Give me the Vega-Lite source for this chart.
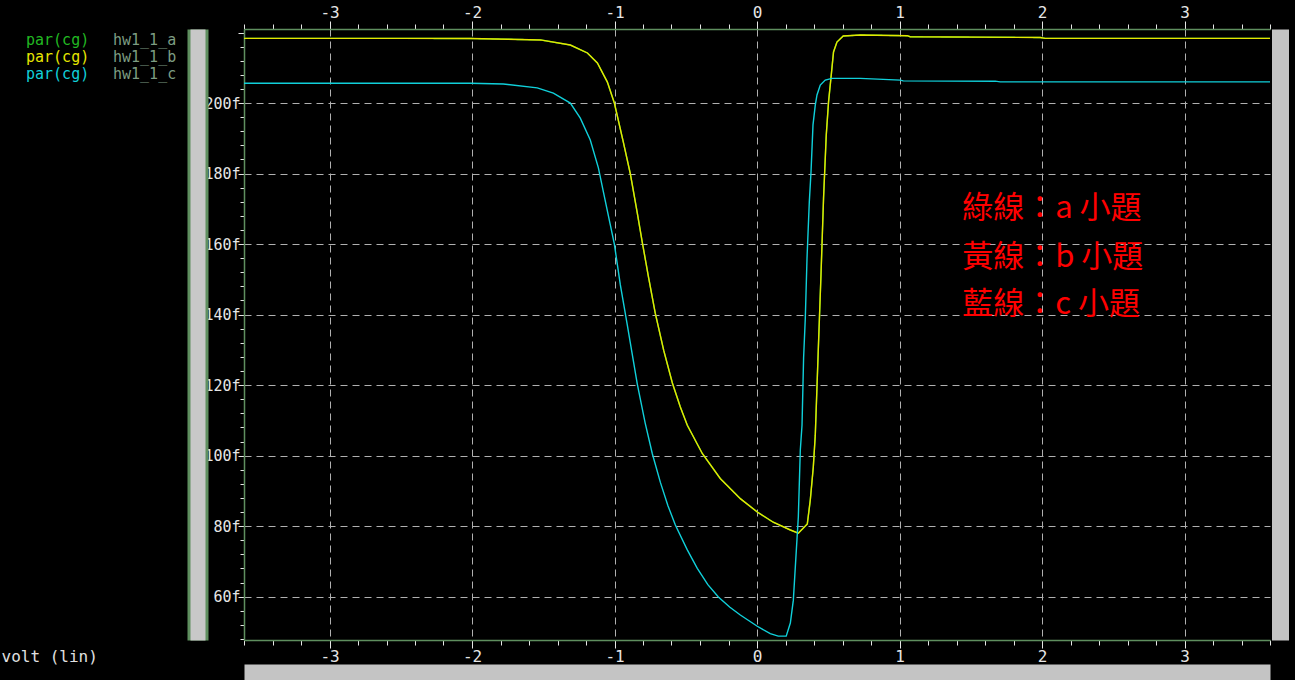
{
  "$schema": "https://vega.github.io/schema/vega-lite/v6.json",
  "width": 1026,
  "height": 611,
  "autosize": {"type": "none"},
  "padding": {"left": 244, "top": 29, "right": 25, "bottom": 40},
  "background": "#000000",
  "config": {
    "view": {"stroke": null},
    "axis": {
      "labelFont": "DejaVu Sans Mono",
      "labelColor": "#e6e6e6",
      "tickColor": "#e6e6e6",
      "tickWidth": 1,
      "domainColor": "#5f8f5f",
      "domainWidth": 1.5,
      "gridColor": "#b0b0b0",
      "gridDash": [7, 5],
      "gridWidth": 1,
      "labelOverlap": false,
      "labelFlush": false,
      "titleFont": "DejaVu Sans Mono"
    }
  },
  "datasets": {
    "curves": [
      {"series": "a", "name": "hw1_1_a", "v": -3.6, "cg": 218.35},
      {"series": "a", "name": "hw1_1_a", "v": -2.5, "cg": 218.35},
      {"series": "a", "name": "hw1_1_a", "v": -2.011, "cg": 218.3},
      {"series": "a", "name": "hw1_1_a", "v": -1.75, "cg": 218.1},
      {"series": "a", "name": "hw1_1_a", "v": -1.52, "cg": 217.9},
      {"series": "a", "name": "hw1_1_a", "v": -1.31, "cg": 216.45},
      {"series": "a", "name": "hw1_1_a", "v": -1.19, "cg": 214.2},
      {"series": "a", "name": "hw1_1_a", "v": -1.12, "cg": 211.35},
      {"series": "a", "name": "hw1_1_a", "v": -1.05, "cg": 205.95},
      {"series": "a", "name": "hw1_1_a", "v": -1.001, "cg": 200.0},
      {"series": "a", "name": "hw1_1_a", "v": -0.938, "cg": 188.9},
      {"series": "a", "name": "hw1_1_a", "v": -0.889, "cg": 179.95},
      {"series": "a", "name": "hw1_1_a", "v": -0.84, "cg": 168.8},
      {"series": "a", "name": "hw1_1_a", "v": -0.805, "cg": 160.5},
      {"series": "a", "name": "hw1_1_a", "v": -0.763, "cg": 151.0},
      {"series": "a", "name": "hw1_1_a", "v": -0.714, "cg": 140.4},
      {"series": "a", "name": "hw1_1_a", "v": -0.655, "cg": 129.9},
      {"series": "a", "name": "hw1_1_a", "v": -0.594, "cg": 120.6},
      {"series": "a", "name": "hw1_1_a", "v": -0.538, "cg": 113.8},
      {"series": "a", "name": "hw1_1_a", "v": -0.489, "cg": 108.6},
      {"series": "a", "name": "hw1_1_a", "v": -0.384, "cg": 100.6},
      {"series": "a", "name": "hw1_1_a", "v": -0.258, "cg": 93.5},
      {"series": "a", "name": "hw1_1_a", "v": -0.117, "cg": 87.8},
      {"series": "a", "name": "hw1_1_a", "v": 0.002, "cg": 84.0},
      {"series": "a", "name": "hw1_1_a", "v": 0.114, "cg": 81.1},
      {"series": "a", "name": "hw1_1_a", "v": 0.234, "cg": 78.9},
      {"series": "a", "name": "hw1_1_a", "v": 0.29, "cg": 78.0},
      {"series": "a", "name": "hw1_1_a", "v": 0.353, "cg": 80.6},
      {"series": "a", "name": "hw1_1_a", "v": 0.374, "cg": 87.4},
      {"series": "a", "name": "hw1_1_a", "v": 0.395, "cg": 96.7},
      {"series": "a", "name": "hw1_1_a", "v": 0.409, "cg": 105.8},
      {"series": "a", "name": "hw1_1_a", "v": 0.432, "cg": 132.2},
      {"series": "a", "name": "hw1_1_a", "v": 0.449, "cg": 151.2},
      {"series": "a", "name": "hw1_1_a", "v": 0.467, "cg": 173.0},
      {"series": "a", "name": "hw1_1_a", "v": 0.486, "cg": 190.9},
      {"series": "a", "name": "hw1_1_a", "v": 0.502, "cg": 200.3},
      {"series": "a", "name": "hw1_1_a", "v": 0.521, "cg": 207.9},
      {"series": "a", "name": "hw1_1_a", "v": 0.537, "cg": 214.5},
      {"series": "a", "name": "hw1_1_a", "v": 0.561, "cg": 217.3},
      {"series": "a", "name": "hw1_1_a", "v": 0.605, "cg": 219.0},
      {"series": "a", "name": "hw1_1_a", "v": 0.725, "cg": 219.3},
      {"series": "a", "name": "hw1_1_a", "v": 1.054, "cg": 219.1},
      {"series": "a", "name": "hw1_1_a", "v": 1.075, "cg": 218.8},
      {"series": "a", "name": "hw1_1_a", "v": 1.987, "cg": 218.6},
      {"series": "a", "name": "hw1_1_a", "v": 2.022, "cg": 218.35},
      {"series": "a", "name": "hw1_1_a", "v": 3.6, "cg": 218.35},

      {"series": "b", "name": "hw1_1_b", "v": -3.6, "cg": 218.35},
      {"series": "b", "name": "hw1_1_b", "v": -2.5, "cg": 218.35},
      {"series": "b", "name": "hw1_1_b", "v": -2.011, "cg": 218.3},
      {"series": "b", "name": "hw1_1_b", "v": -1.75, "cg": 218.1},
      {"series": "b", "name": "hw1_1_b", "v": -1.52, "cg": 217.9},
      {"series": "b", "name": "hw1_1_b", "v": -1.31, "cg": 216.45},
      {"series": "b", "name": "hw1_1_b", "v": -1.19, "cg": 214.2},
      {"series": "b", "name": "hw1_1_b", "v": -1.12, "cg": 211.35},
      {"series": "b", "name": "hw1_1_b", "v": -1.05, "cg": 205.95},
      {"series": "b", "name": "hw1_1_b", "v": -1.001, "cg": 200.0},
      {"series": "b", "name": "hw1_1_b", "v": -0.938, "cg": 188.9},
      {"series": "b", "name": "hw1_1_b", "v": -0.889, "cg": 179.95},
      {"series": "b", "name": "hw1_1_b", "v": -0.84, "cg": 168.8},
      {"series": "b", "name": "hw1_1_b", "v": -0.805, "cg": 160.5},
      {"series": "b", "name": "hw1_1_b", "v": -0.763, "cg": 151.0},
      {"series": "b", "name": "hw1_1_b", "v": -0.714, "cg": 140.4},
      {"series": "b", "name": "hw1_1_b", "v": -0.655, "cg": 129.9},
      {"series": "b", "name": "hw1_1_b", "v": -0.594, "cg": 120.6},
      {"series": "b", "name": "hw1_1_b", "v": -0.538, "cg": 113.8},
      {"series": "b", "name": "hw1_1_b", "v": -0.489, "cg": 108.6},
      {"series": "b", "name": "hw1_1_b", "v": -0.384, "cg": 100.6},
      {"series": "b", "name": "hw1_1_b", "v": -0.258, "cg": 93.5},
      {"series": "b", "name": "hw1_1_b", "v": -0.117, "cg": 87.8},
      {"series": "b", "name": "hw1_1_b", "v": 0.002, "cg": 84.0},
      {"series": "b", "name": "hw1_1_b", "v": 0.114, "cg": 81.1},
      {"series": "b", "name": "hw1_1_b", "v": 0.234, "cg": 78.9},
      {"series": "b", "name": "hw1_1_b", "v": 0.29, "cg": 78.0},
      {"series": "b", "name": "hw1_1_b", "v": 0.353, "cg": 80.6},
      {"series": "b", "name": "hw1_1_b", "v": 0.374, "cg": 87.4},
      {"series": "b", "name": "hw1_1_b", "v": 0.395, "cg": 96.7},
      {"series": "b", "name": "hw1_1_b", "v": 0.409, "cg": 105.8},
      {"series": "b", "name": "hw1_1_b", "v": 0.432, "cg": 132.2},
      {"series": "b", "name": "hw1_1_b", "v": 0.449, "cg": 151.2},
      {"series": "b", "name": "hw1_1_b", "v": 0.467, "cg": 173.0},
      {"series": "b", "name": "hw1_1_b", "v": 0.486, "cg": 190.9},
      {"series": "b", "name": "hw1_1_b", "v": 0.502, "cg": 200.3},
      {"series": "b", "name": "hw1_1_b", "v": 0.521, "cg": 207.9},
      {"series": "b", "name": "hw1_1_b", "v": 0.537, "cg": 214.5},
      {"series": "b", "name": "hw1_1_b", "v": 0.561, "cg": 217.3},
      {"series": "b", "name": "hw1_1_b", "v": 0.605, "cg": 219.0},
      {"series": "b", "name": "hw1_1_b", "v": 0.725, "cg": 219.3},
      {"series": "b", "name": "hw1_1_b", "v": 1.054, "cg": 219.1},
      {"series": "b", "name": "hw1_1_b", "v": 1.075, "cg": 218.8},
      {"series": "b", "name": "hw1_1_b", "v": 1.987, "cg": 218.6},
      {"series": "b", "name": "hw1_1_b", "v": 2.022, "cg": 218.35},
      {"series": "b", "name": "hw1_1_b", "v": 3.6, "cg": 218.35},

      {"series": "c", "name": "hw1_1_c", "v": -3.6, "cg": 205.6},
      {"series": "c", "name": "hw1_1_c", "v": -2.011, "cg": 205.6},
      {"series": "c", "name": "hw1_1_c", "v": -1.78, "cg": 205.4},
      {"series": "c", "name": "hw1_1_c", "v": -1.542, "cg": 204.3},
      {"series": "c", "name": "hw1_1_c", "v": -1.429, "cg": 202.8},
      {"series": "c", "name": "hw1_1_c", "v": -1.31, "cg": 200.0},
      {"series": "c", "name": "hw1_1_c", "v": -1.24, "cg": 195.7},
      {"series": "c", "name": "hw1_1_c", "v": -1.17, "cg": 189.5},
      {"series": "c", "name": "hw1_1_c", "v": -1.113, "cg": 181.6},
      {"series": "c", "name": "hw1_1_c", "v": -1.078, "cg": 174.8},
      {"series": "c", "name": "hw1_1_c", "v": -1.029, "cg": 165.4},
      {"series": "c", "name": "hw1_1_c", "v": -1.001, "cg": 160.0},
      {"series": "c", "name": "hw1_1_c", "v": -0.959, "cg": 148.4},
      {"series": "c", "name": "hw1_1_c", "v": -0.91, "cg": 137.0},
      {"series": "c", "name": "hw1_1_c", "v": -0.84, "cg": 120.3},
      {"series": "c", "name": "hw1_1_c", "v": -0.785, "cg": 109.3},
      {"series": "c", "name": "hw1_1_c", "v": -0.735, "cg": 100.6},
      {"series": "c", "name": "hw1_1_c", "v": -0.678, "cg": 92.4},
      {"series": "c", "name": "hw1_1_c", "v": -0.625, "cg": 85.8},
      {"series": "c", "name": "hw1_1_c", "v": -0.573, "cg": 80.3},
      {"series": "c", "name": "hw1_1_c", "v": -0.491, "cg": 73.4},
      {"series": "c", "name": "hw1_1_c", "v": -0.419, "cg": 68.0},
      {"series": "c", "name": "hw1_1_c", "v": -0.345, "cg": 63.4},
      {"series": "c", "name": "hw1_1_c", "v": -0.271, "cg": 59.9},
      {"series": "c", "name": "hw1_1_c", "v": -0.19, "cg": 57.0},
      {"series": "c", "name": "hw1_1_c", "v": -0.117, "cg": 54.8},
      {"series": "c", "name": "hw1_1_c", "v": 0.002, "cg": 51.6},
      {"series": "c", "name": "hw1_1_c", "v": 0.093, "cg": 49.5},
      {"series": "c", "name": "hw1_1_c", "v": 0.149, "cg": 48.8},
      {"series": "c", "name": "hw1_1_c", "v": 0.205, "cg": 48.8},
      {"series": "c", "name": "hw1_1_c", "v": 0.234, "cg": 52.5},
      {"series": "c", "name": "hw1_1_c", "v": 0.255, "cg": 59.0},
      {"series": "c", "name": "hw1_1_c", "v": 0.276, "cg": 73.2},
      {"series": "c", "name": "hw1_1_c", "v": 0.29, "cg": 82.6},
      {"series": "c", "name": "hw1_1_c", "v": 0.304, "cg": 101.6},
      {"series": "c", "name": "hw1_1_c", "v": 0.316, "cg": 108.7},
      {"series": "c", "name": "hw1_1_c", "v": 0.327, "cg": 127.7},
      {"series": "c", "name": "hw1_1_c", "v": 0.339, "cg": 139.0},
      {"series": "c", "name": "hw1_1_c", "v": 0.351, "cg": 156.0},
      {"series": "c", "name": "hw1_1_c", "v": 0.367, "cg": 171.9},
      {"series": "c", "name": "hw1_1_c", "v": 0.379, "cg": 180.4},
      {"series": "c", "name": "hw1_1_c", "v": 0.393, "cg": 193.8},
      {"series": "c", "name": "hw1_1_c", "v": 0.409, "cg": 199.4},
      {"series": "c", "name": "hw1_1_c", "v": 0.421, "cg": 202.3},
      {"series": "c", "name": "hw1_1_c", "v": 0.444, "cg": 205.1},
      {"series": "c", "name": "hw1_1_c", "v": 0.479, "cg": 206.5},
      {"series": "c", "name": "hw1_1_c", "v": 0.526, "cg": 207.0},
      {"series": "c", "name": "hw1_1_c", "v": 0.725, "cg": 207.0},
      {"series": "c", "name": "hw1_1_c", "v": 1.006, "cg": 206.5},
      {"series": "c", "name": "hw1_1_c", "v": 1.026, "cg": 206.3},
      {"series": "c", "name": "hw1_1_c", "v": 1.672, "cg": 206.2},
      {"series": "c", "name": "hw1_1_c", "v": 1.707, "cg": 206.0},
      {"series": "c", "name": "hw1_1_c", "v": 3.6, "cg": 206.0}
    ],
    "notes": [
      {"note": "綠線：a 小題", "nx": 1.44, "ny": 170.0},
      {"note": "黃線：b 小題", "nx": 1.44, "ny": 156.0},
      {"note": "藍線：c 小題", "nx": 1.44, "ny": 142.6}
    ]
  },
  "data": {"name": "curves"},
  "resolve": {"axis": {"x": "independent", "y": "independent"}},
  "layer": [
    {
      "transform": [{"filter": "datum.series === 'a'"}],
      "mark": {"type": "line", "strokeWidth": 1.4},
      "encoding": {
        "x": {
          "field": "v", "type": "quantitative",
          "scale": {"domain": [-3.6, 3.6], "nice": false, "zero": false},
          "axis": {
            "orient": "bottom",
            "values": [-3.6,-3.4,-3.2,-3,-2.8,-2.6,-2.4,-2.2,-2,-1.8,-1.6,-1.4,-1.2,-1,-0.8,-0.6,-0.4,-0.2,0,0.2,0.4,0.6,0.8,1,1.2,1.4,1.6,1.8,2,2.2,2.4,2.6,2.8,3,3.2,3.4,3.6],
            "labelExpr": "abs(datum.value - round(datum.value)) < 1e-6 ? (datum.value < 0 ? '-' + abs(round(datum.value)) : '' + round(datum.value)) : ''",
            "tickSize": {"condition": {"test": "abs(datum.value - round(datum.value)) < 1e-6", "value": 8}, "value": 5},
            "grid": true,
            "gridOpacity": {"condition": {"test": "abs(datum.value - round(datum.value)) < 1e-6", "value": 1}, "value": 0},
            "labelFontSize": 16,
            "labelPadding": 0,
            "title": "volt (lin)",
            "titleX": -243,
            "titleY": 16,
            "titleAlign": "left",
            "titleBaseline": "middle",
            "titleFontSize": 16,
            "titleFontWeight": "normal",
            "titleColor": "#e0e0e0"
          }
        },
        "y": {
          "field": "cg", "type": "quantitative",
          "scale": {"domain": [47.7, 221], "nice": false, "zero": false},
          "axis": {
            "orient": "left",
            "values": [48,52,56,60,64,68,72,76,80,84,88,92,96,100,104,108,112,116,120,124,128,132,136,140,144,148,152,156,160,164,168,172,176,180,184,188,192,196,200,204,208,212,216,220],
            "labelExpr": "datum.value % 20 === 0 && datum.value < 220 ? datum.value + 'f' : ''",
            "tickSize": {"condition": {"test": "datum.value % 20 === 0", "value": 6}, "value": 4},
            "grid": true,
            "gridOpacity": {"condition": {"test": "datum.value % 20 === 0 && datum.value < 220", "value": 1}, "value": 0},
            "labelFontSize": 15,
            "labelPadding": -2,
            "labelBaseline": "middle",
            "title": null
          }
        },
        "color": {
          "field": "series", "type": "nominal",
          "scale": {"domain": ["a", "b", "c"], "range": ["#22b822", "#e6e600", "#10d0da"]},
          "legend": {
            "orient": "none",
            "legendX": -233,
            "legendY": 3,
            "title": null,
            "symbolSize": 0,
            "symbolStrokeWidth": 0,
            "symbolOpacity": 0,
            "labelOffset": 0,
            "rowPadding": 1,
            "labelFont": "DejaVu Sans Mono",
            "labelFontSize": 15,
            "labelExpr": "'par(cg)'",
            "encode": {"labels": {"update": {"fill": {"scale": "color", "field": "value"}}}}
          }
        },
        "strokeDash": {
          "field": "name", "type": "nominal",
          "scale": {"domain": ["hw1_1_a", "hw1_1_b", "hw1_1_c"], "range": [[1, 0], [1, 0], [1, 0]]},
          "legend": {
            "orient": "none",
            "legendX": -146,
            "legendY": 3,
            "title": null,
            "symbolSize": 0,
            "symbolStrokeWidth": 0,
            "symbolOpacity": 0,
            "labelOffset": 0,
            "rowPadding": 1,
            "labelFont": "DejaVu Sans Mono",
            "labelFontSize": 15,
            "labelColor": "#7c9c82"
          }
        }
      }
    },
    {
      "transform": [{"filter": "datum.series === 'b'"}],
      "mark": {"type": "line", "strokeWidth": 1.4, "color": "#e6e600"},
      "encoding": {
        "x": {
          "field": "v", "type": "quantitative",
          "scale": {"domain": [-3.6, 3.6], "nice": false, "zero": false},
          "axis": {
            "orient": "top",
            "values": [-3.6,-3.4,-3.2,-3,-2.8,-2.6,-2.4,-2.2,-2,-1.8,-1.6,-1.4,-1.2,-1,-0.8,-0.6,-0.4,-0.2,0,0.2,0.4,0.6,0.8,1,1.2,1.4,1.6,1.8,2,2.2,2.4,2.6,2.8,3,3.2,3.4,3.6],
            "labelExpr": "abs(datum.value - round(datum.value)) < 1e-6 ? (datum.value < 0 ? '-' + abs(round(datum.value)) : '' + round(datum.value)) : ''",
            "tickSize": {"condition": {"test": "abs(datum.value - round(datum.value)) < 1e-6", "value": 8}, "value": 5},
            "grid": false,
            "labelFontSize": 16,
            "labelPadding": 1,
            "title": null
          }
        },
        "y": {
          "field": "cg", "type": "quantitative",
          "scale": {"domain": [47.7, 221], "nice": false, "zero": false},
          "axis": {
            "orient": "right",
            "offset": 10,
            "ticks": false,
            "labels": false,
            "grid": false,
            "domainColor": "#c4c4c4",
            "domainWidth": 17,
            "title": null
          }
        }
      }
    },
    {
      "transform": [{"filter": "datum.series === 'c'"}],
      "mark": {"type": "line", "strokeWidth": 1.4, "color": "#10d0da"},
      "encoding": {
        "x": {
          "field": "v", "type": "quantitative",
          "scale": {"domain": [-3.6, 3.6], "nice": false, "zero": false},
          "axis": {
            "orient": "bottom",
            "offset": 32,
            "ticks": false,
            "labels": false,
            "grid": false,
            "domainColor": "#c4c4c4",
            "domainWidth": 16,
            "title": null
          }
        },
        "y": {
          "field": "cg", "type": "quantitative",
          "scale": {"domain": [47.7, 221], "nice": false, "zero": false},
          "axis": {
            "orient": "left",
            "offset": 46.5,
            "ticks": false,
            "labels": false,
            "grid": false,
            "domainColor": "#5f8f5f",
            "domainWidth": 21,
            "title": null
          }
        }
      }
    },
    {
      "data": {"name": "notes"},
      "mark": {"type": "text", "align": "left", "baseline": "middle", "font": "Noto Sans CJK TC", "fontSize": 31, "color": "#ff0000"},
      "encoding": {
        "x": {"field": "nx", "type": "quantitative", "scale": {"domain": [-3.6, 3.6], "nice": false, "zero": false}, "axis": null},
        "y": {
          "field": "ny", "type": "quantitative",
          "scale": {"domain": [47.7, 221], "nice": false, "zero": false},
          "axis": {
            "orient": "left",
            "offset": 46.5,
            "ticks": false,
            "labels": false,
            "grid": false,
            "domainColor": "#c8c8c8",
            "domainWidth": 15,
            "title": null
          }
        },
        "text": {"field": "note", "type": "nominal"}
      }
    }
  ]
}
